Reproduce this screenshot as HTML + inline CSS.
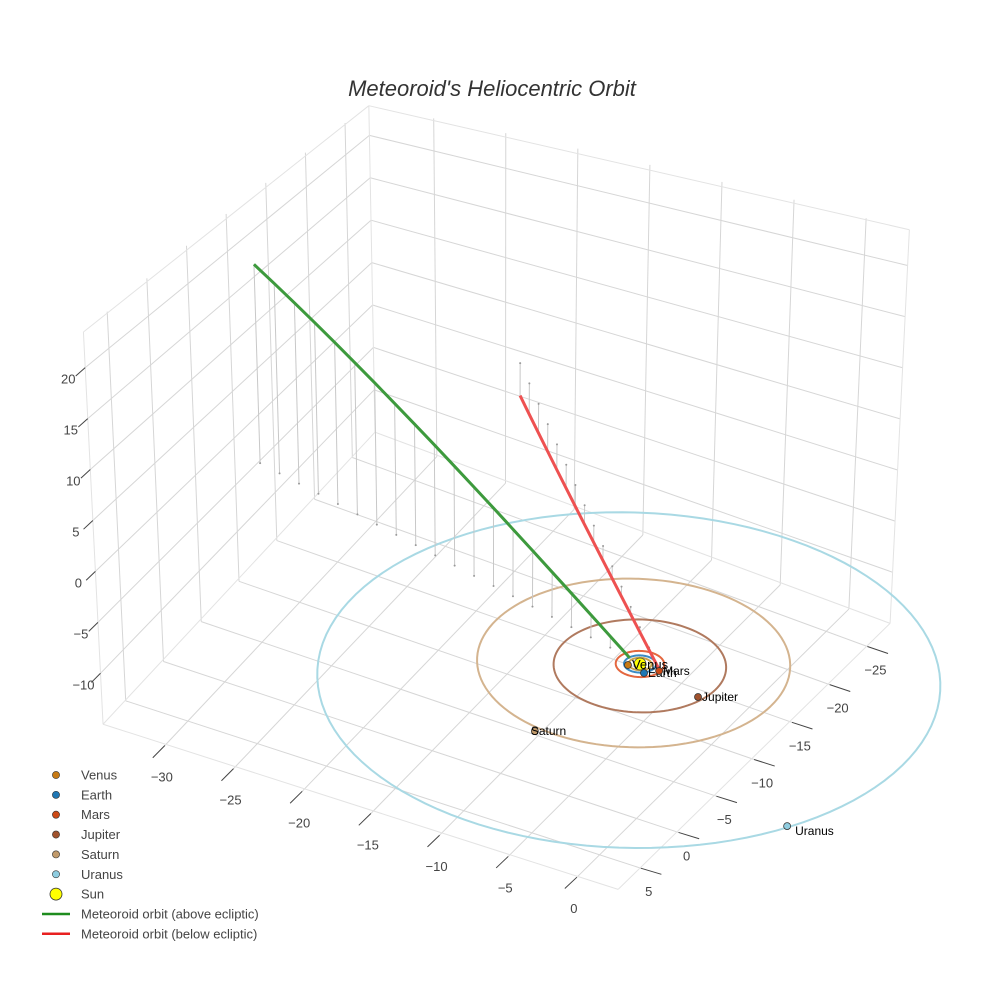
<!DOCTYPE html>
<html><head><meta charset="utf-8"><style>
html,body{margin:0;padding:0;background:#fff;}
svg{display:block;font-family:"Liberation Sans",sans-serif;}
</style></head><body>
<svg id="chart" width="984" height="984" viewBox="0 0 984 984" xmlns="http://www.w3.org/2000/svg">
<text x="492" y="96" text-anchor="middle" font-size="22" font-style="italic" fill="#333">Meteoroid's Heliocentric Orbit</text>
<g id="grid"></g>
<g id="marks"></g>
<g id="legend"></g>
</svg>
<script>
// ---- data ----
const xTicks = [-30,-25,-20,-15,-10,-5,0];
const yTicks = [-25,-20,-15,-10,-5,0,5];
const zTicks = [-10,-5,0,5,10,15,20];
const planetNames = ["Venus","Earth","Mars","Jupiter","Saturn","Uranus"];
const planetX = [-0.59,0.72,1.42,4.97,-1.9,17.0];
const planetY = [0.49,0.79,0.10,1.5,10.2,11.8];
const orbitRadius = [0.72,1.0,1.52,5.4,9.8,19.5];
const orbitCx = [0,0,0,0.1,-0.4,0.3];
const orbitCy = [0,0,0,0.2,0.1,2.0];
const greenX = [-31.70,-30.08,-28.46,-26.84,-25.22,-23.59,-21.97,-20.35,-18.73,-17.11,-15.49,-13.87,-12.25,-10.63,-9.00,-7.38,-5.76,-4.14,-2.52,-0.90];
const greenY = [-8.30,-7.88,-7.46,-7.04,-6.62,-6.19,-5.77,-5.35,-4.93,-4.51,-4.09,-3.67,-3.25,-2.83,-2.40,-1.98,-1.56,-1.14,-0.72,-0.30];
const greenZ = [20.40,19.33,18.25,17.18,16.11,15.03,13.96,12.88,11.81,10.74,9.66,8.59,7.52,6.44,5.37,4.29,3.22,2.15,1.07,0.00];
const redX = [-23.30,-21.67,-20.03,-18.40,-16.77,-15.13,-13.50,-11.87,-10.23,-8.60,-6.97,-5.33,-3.70,-2.07,-0.43,1.20];
const redY = [-26.80,-25.03,-23.25,-21.48,-19.71,-17.93,-16.16,-14.39,-12.61,-10.84,-9.07,-7.29,-5.52,-3.75,-1.97,-0.20];
const redZ = [-3.50,-3.27,-3.03,-2.80,-2.57,-2.33,-2.10,-1.87,-1.63,-1.40,-1.17,-0.93,-0.70,-0.47,-0.23,0.00];

// ---- projection ----
const X0=-34.5,X1=3,Y0=-28,Y1=8,Z0=-15,Z1=23.5;
function P(x,y,z){
  const d=-x-y;
  const s=10.42-0.000641*(d-7.5)*(d-7.5);
  let X=640+14*x-7.7*y, Y=664+4.4*x+7.4*y-s*z;
  X=X+0.00126*z*(X-500);
  return [X,Y];
}
const NS="http://www.w3.org/2000/svg";
function mk(tag,attrs,parent){const e=document.createElementNS(NS,tag);for(const k in attrs)e.setAttribute(k,attrs[k]);parent.appendChild(e);return e;}
const grid=document.getElementById('grid'), marks=document.getElementById('marks'), legend=document.getElementById('legend');
function seg(a,b,col,w,parent,name){const l=mk('line',{x1:a[0],y1:a[1],x2:b[0],y2:b[1],stroke:col,'stroke-width':w},parent);

return l;}
const gc="#d6d6d6";
xTicks.forEach(v=>seg(P(v,Y0,Z0),P(v,Y1,Z0),gc,1,grid,'floor-gridline-x'));
yTicks.forEach(v=>seg(P(X0,v,Z0),P(X1,v,Z0),gc,1,grid,'floor-gridline-y'));
yTicks.forEach(v=>seg(P(X0,v,Z0),P(X0,v,Z1),gc,1,grid,'wall-gridline-y'));
zTicks.forEach(v=>seg(P(X0,Y0,v),P(X0,Y1,v),gc,1,grid,'wall-gridline-z'));
xTicks.forEach(v=>seg(P(v,Y0,Z0),P(v,Y0,Z1),gc,1,grid,'wall-gridline-x'));
zTicks.forEach(v=>seg(P(X0,Y0,v),P(X1,Y0,v),gc,1,grid,'wall-gridline-z'));
[[[X0,Y1,Z0],[X0,Y1,Z1]],[[X1,Y0,Z0],[X1,Y0,Z1]],[[X0,Y0,Z0],[X0,Y0,Z1]],
 [[X0,Y1,Z0],[X1,Y1,Z0]],[[X1,Y0,Z0],[X1,Y1,Z0]],[[X0,Y0,Z0],[X0,Y1,Z0]],[[X0,Y0,Z0],[X1,Y0,Z0]],
 [[X0,Y1,Z1],[X0,Y0,Z1]],[[X0,Y0,Z1],[X1,Y0,Z1]]].forEach(e=>seg(P(...e[0]),P(...e[1]),"#e3e3e3",1,grid,'box-edge'));
function txt(x,y,s,parent,name,anchor,size,fill){const t=mk('text',{x:x,y:y,'text-anchor':anchor||'middle','font-size':size||13,fill:fill||'#444'},parent);t.textContent=s;

return t;}
function lab(v){return v<0?'\u2212'+Math.abs(v):String(v);}
xTicks.forEach(v=>{const a=P(v,Y1,Z0),b=P(v,Y1+1.6,Z0);seg(a,b,"#444",1,grid,'x-tick');txt(a[0]-3,a[1]+36,lab(v),grid,'x-tick-label');});
yTicks.forEach(v=>{const a=P(X1,v,Z0),b=P(X1+1.5,v,Z0);seg(a,b,"#444",1,grid,'y-tick');txt(a[0]+8,a[1]+28,lab(v),grid,'y-tick-label');});
zTicks.forEach(v=>{const a=P(X0,Y1,v),b=P(X0,Y1+1.2,v);seg(a,b,"#444",1,grid,'z-tick');txt(a[0]-17,a[1]+16,lab(v),grid,'z-tick-label');});

const orbitColors=["#c9a24a","#3b8bc4","#e4673f","#b07a5f","#d4b48f","#a9d9e4"];
orbitRadius.forEach((r,i)=>{
  let pts=[];for(let k=0;k<=120;k++){const t=k/120*2*Math.PI;const p=P(orbitCx[i]+r*Math.cos(t),orbitCy[i]+r*Math.sin(t),0);pts.push(p.join(','));}
  const pl=mk('polyline',{points:pts.join(' '),fill:'none',stroke:orbitColors[i],'stroke-width':2},marks);
  
  
});
function drops(xs,ys,zs,name){xs.forEach((x,i)=>{const a=P(x,ys[i],zs[i]),b=P(x,ys[i],0);seg(a,b,"#c8c8c8",1,marks,name);
 const c=mk('circle',{cx:b[0],cy:b[1],r:1,fill:'#999'},marks);
 
 });}
drops(greenX,greenY,greenZ,'green-drop-line');
drops(redX,redY,redZ,'red-drop-line');
function path(xs,ys,zs,col,name){const pts=xs.map((x,i)=>P(x,ys[i],zs[i]).join(','));
 const pl=mk('polyline',{points:pts.join(' '),fill:'none',stroke:col,'stroke-width':3,'stroke-linejoin':'round'},marks);
 
 }
path(greenX,greenY,greenZ,"#3d9a3d",'meteoroid-orbit-above');
path(redX,redY,redZ,"#ee5151",'meteoroid-orbit-below');
const planetColors=["#c77a14","#1f77b4","#cc4a16","#a0522d","#c19a6b","#8fcde0"];
const sp=P(0,0,0);
const sun=mk('circle',{cx:sp[0],cy:sp[1],r:6,fill:'#ffff00',stroke:'#444','stroke-width':0.8},marks);


planetNames.forEach((n,i)=>{const p=P(planetX[i],planetY[i],0);
 const c=mk('circle',{cx:p[0],cy:p[1],r:3.5,fill:planetColors[i],stroke:'#333','stroke-width':0.8},marks);
 
 
 const dy=n==="Uranus"?9:4;const dx=n==="Uranus"?8:(n==="Saturn"?-4:4);
 txt(p[0]+dx,p[1]+dy,n,marks,n.toLowerCase()+'-label','start',n==="Venus"?13:12,'#000');
});
const legNames=["Venus","Earth","Mars","Jupiter","Saturn","Uranus","Sun","Meteoroid orbit (above ecliptic)","Meteoroid orbit (below ecliptic)"];
const legColors=["#c77a14","#1f77b4","#cc4a16","#a0522d","#c19a6b","#8fcde0","#ffff00","#1e8c1e","#e82020"];
legNames.forEach((n,i)=>{const y=775+i*19.85;
 const g=mk('g',{},legend);
 
 
 if(i<6){mk('circle',{cx:56,cy:y,r:3.6,fill:legColors[i],stroke:'#333','stroke-width':0.6},g);}
 else if(i===6){mk('circle',{cx:56,cy:y,r:6,fill:legColors[i],stroke:'#333','stroke-width':0.8},g);}
 else{mk('line',{x1:42,y1:y,x2:70,y2:y,stroke:legColors[i],'stroke-width':2.5},g);}
 const t=mk('text',{x:81,y:y+4.5,'font-size':13,fill:'#444'},g);t.textContent=n;
});
</script>
</body></html>
